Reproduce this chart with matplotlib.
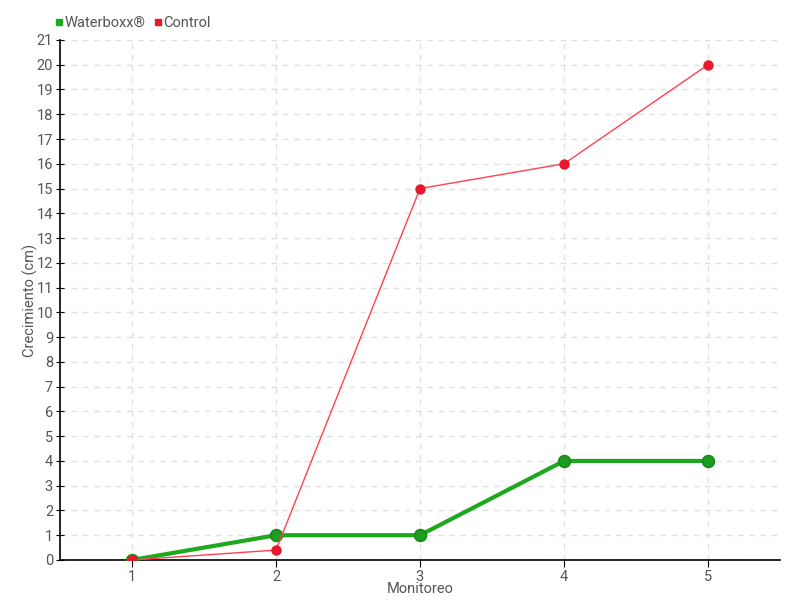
import matplotlib
matplotlib.use("Agg")
import matplotlib.pyplot as plt
from matplotlib.lines import Line2D

plt.rcParams['font.family'] = ['Roboto', 'DejaVu Sans']

# datos
monitoreo = [1, 2, 3, 4, 5]
waterboxx = [0, 1, 1, 4, 4]
control = [0, 0.4, 15, 16, 20]

fig = plt.figure(figsize=(8, 6), dpi=100)
ax = fig.add_axes([0.075, 0.0667, 0.9, 0.8667])

ax.plot(monitoreo, waterboxx, '-', color='#1ea81e', lw=3, zorder=3,
        marker='o', ms=8.5, mfc='#1e9e1e', mec='#198a19', mew=1.2)
ax.plot(monitoreo, control, '-', color='#ff4050', lw=1, zorder=4,
        marker='o', ms=6.5, mfc='#e8192c', mec='#e8192c')

ax.set_xlim(0.5, 5.5)
ax.set_ylim(0, 21)
ax.set_xticks(monitoreo)
ax.set_yticks(range(0, 22))
ax.grid(True, ls=(0, (4, 4)), color='#e0e0e0', lw=1)
ax.set_axisbelow(True)

for s in ['top', 'right']:
    ax.spines[s].set_visible(False)
ax.spines['left'].set_linewidth(1.2)
ax.spines['bottom'].set_linewidth(1.2)
ax.tick_params(axis='y', direction='inout', length=6, labelsize=10.5, labelcolor='#555555', pad=2)
ax.tick_params(axis='x', direction='out', length=5, labelsize=10.5, labelcolor='#555555', pad=2)

ax.set_xlabel("Monitoreo", fontsize=10.5, color='#555555', labelpad=-1)
ax.set_ylabel("Crecimiento (cm)", fontsize=10.5, color='#555555', labelpad=-1)

handles = [Line2D([], [], ls='', marker='s', ms=5, color='#1ea81e'),
           Line2D([], [], ls='', marker='s', ms=5, color='#e8192c')]
fig.legend(handles, ['Waterboxx®', 'Control'], loc='upper left',
           bbox_to_anchor=(0.052, 0.995), ncol=2, frameon=False,
           handletextpad=0.05, columnspacing=0.6, fontsize=10.5,
           labelcolor='#555555', handlelength=0.6)

fig.savefig("out.png")
